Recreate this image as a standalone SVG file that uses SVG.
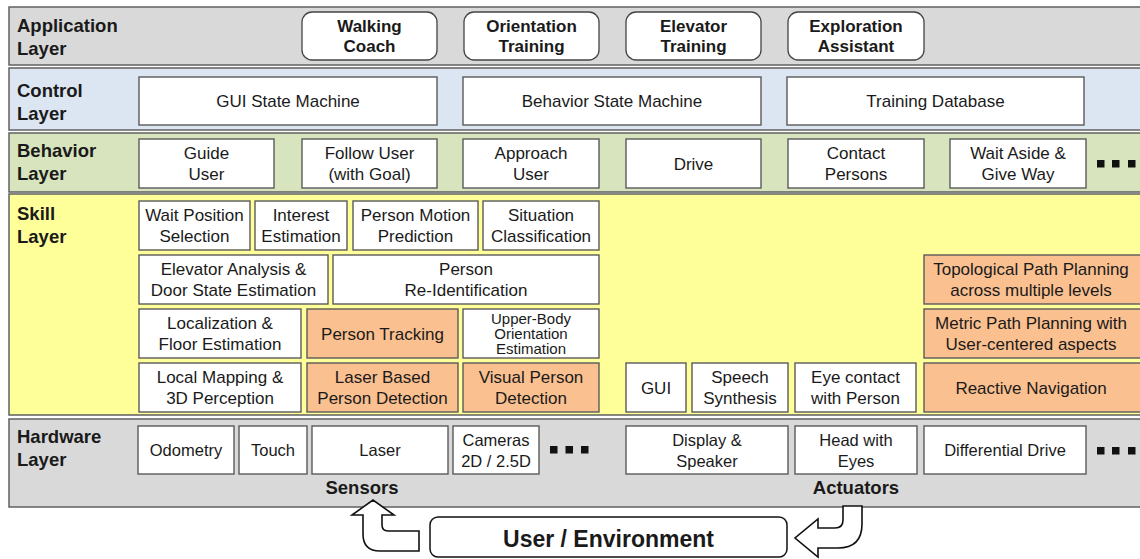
<svg xmlns="http://www.w3.org/2000/svg" width="1140" height="559" viewBox="0 0 1140 559">
<style>
text{font-family:"Liberation Sans",Arial,sans-serif;fill:#1a1a1a}
.lt{font-size:18.5px;font-weight:bold}
.bt{font-size:17px;text-anchor:middle}
.ab{font-size:17px;font-weight:bold;text-anchor:middle}
.ht{font-size:16.5px;text-anchor:middle}
.sm{font-size:15px;text-anchor:middle}
.lay{stroke:#606060;stroke-width:1.5}
.box{fill:#ffffff;stroke:#5a5a5a;stroke-width:1.4}
.org{fill:#fac090;stroke:#5a5a5a;stroke-width:1.4}
.app{fill:#ffffff;stroke:#444;stroke-width:1.3}
.dot{fill:#111}
.arr{fill:#ffffff;stroke:#111;stroke-width:1.6;stroke-linejoin:miter}
</style>

<!-- Layers -->
<g id="application-layer">
<rect class="lay" x="9" y="7" width="1140" height="58" fill="#d9d9d9"/>
<text class="lt" x="17" y="32">Application</text>
<text class="lt" x="17" y="55">Layer</text>
</g>
<g id="control-layer">
<rect class="lay" x="9" y="68" width="1140" height="62" fill="#dce6f2"/>
<text class="lt" x="17" y="97">Control</text>
<text class="lt" x="17" y="120">Layer</text>
</g>
<g id="behavior-layer">
<rect class="lay" x="9" y="133" width="1140" height="59" fill="#d7e4bd"/>
<text class="lt" x="17" y="157">Behavior</text>
<text class="lt" x="17" y="180">Layer</text>
</g>
<g id="skill-layer">
<rect class="lay" x="9" y="194" width="1140" height="221" fill="#ffff99"/>
<text class="lt" x="17" y="220">Skill</text>
<text class="lt" x="17" y="243">Layer</text>
</g>
<g id="hardware-layer">
<rect class="lay" x="9" y="419" width="1140" height="88" fill="#d9d9d9"/>
<text class="lt" x="17" y="443">Hardware</text>
<text class="lt" x="17" y="466">Layer</text>
</g>

<!-- Application nodes -->
<g id="walking-coach"><rect class="app" x="302" y="12" width="135" height="48" rx="10"/><text class="ab" x="369.5" y="32">Walking</text><text class="ab" x="369.5" y="52">Coach</text></g>
<g id="orientation-training"><rect class="app" x="464" y="12" width="135" height="48" rx="10"/><text class="ab" x="531.5" y="32">Orientation</text><text class="ab" x="531.5" y="52">Training</text></g>
<g id="elevator-training"><rect class="app" x="626" y="12" width="135" height="48" rx="10"/><text class="ab" x="693.5" y="32">Elevator</text><text class="ab" x="693.5" y="52">Training</text></g>
<g id="exploration-assistant"><rect class="app" x="788" y="12" width="136" height="48" rx="10"/><text class="ab" x="856" y="32">Exploration</text><text class="ab" x="856" y="52">Assistant</text></g>

<!-- Control nodes -->
<g id="gui-state-machine"><rect class="box" x="139" y="77" width="298" height="48"/><text class="bt" x="288" y="107">GUI State Machine</text></g>
<g id="behavior-state-machine"><rect class="box" x="463" y="77" width="298" height="48"/><text class="bt" x="612" y="107">Behavior State Machine</text></g>
<g id="training-database"><rect class="box" x="787" y="77" width="297" height="48"/><text class="bt" x="935.5" y="107">Training Database</text></g>

<!-- Behavior nodes -->
<g id="guide-user"><rect class="box" x="139" y="139" width="135" height="49"/><text class="bt" x="206.5" y="159">Guide</text><text class="bt" x="206.5" y="180">User</text></g>
<g id="follow-user"><rect class="box" x="302" y="139" width="135" height="49"/><text class="bt" x="369.5" y="159">Follow User</text><text class="bt" x="369.5" y="180">(with Goal)</text></g>
<g id="approach-user"><rect class="box" x="463" y="139" width="136" height="49"/><text class="bt" x="531" y="159">Approach</text><text class="bt" x="531" y="180">User</text></g>
<g id="drive"><rect class="box" x="626" y="139" width="135" height="49"/><text class="bt" x="693.5" y="170">Drive</text></g>
<g id="contact-persons"><rect class="box" x="788" y="139" width="136" height="49"/><text class="bt" x="856" y="159">Contact</text><text class="bt" x="856" y="180">Persons</text></g>
<g id="wait-aside"><rect class="box" x="950" y="139" width="136" height="49"/><text class="bt" x="1018" y="159">Wait Aside &amp;</text><text class="bt" x="1018" y="180">Give Way</text></g>
<g id="behavior-more"><rect class="dot" x="1097" y="160" width="7.5" height="7.5"/><rect class="dot" x="1112" y="160" width="7.5" height="7.5"/><rect class="dot" x="1128" y="160" width="7.5" height="7.5"/></g>

<!-- Skill nodes -->
<g id="wait-position-selection"><rect class="box" x="139" y="201" width="111" height="49"/><text class="bt" x="194.5" y="221">Wait Position</text><text class="bt" x="194.5" y="242">Selection</text></g>
<g id="interest-estimation"><rect class="box" x="255" y="201" width="92" height="49"/><text class="bt" x="301" y="221">Interest</text><text class="bt" x="301" y="242">Estimation</text></g>
<g id="person-motion-prediction"><rect class="box" x="353" y="201" width="125" height="49"/><text class="bt" x="415.5" y="221">Person Motion</text><text class="bt" x="415.5" y="242">Prediction</text></g>
<g id="situation-classification"><rect class="box" x="483" y="201" width="116" height="49"/><text class="bt" x="541" y="221">Situation</text><text class="bt" x="541" y="242">Classification</text></g>

<g id="elevator-analysis"><rect class="box" x="139" y="255" width="189" height="49"/><text class="bt" x="233.5" y="275">Elevator Analysis &amp;</text><text class="bt" x="233.5" y="296">Door State Estimation</text></g>
<g id="person-reidentification"><rect class="box" x="333" y="255" width="266" height="49"/><text class="bt" x="466" y="275">Person</text><text class="bt" x="466" y="296">Re-Identification</text></g>
<g id="topological-path-planning"><rect class="org" x="924" y="255" width="230" height="49"/><text class="bt" x="1031" y="275">Topological Path Planning</text><text class="bt" x="1031" y="296">across multiple levels</text></g>

<g id="localization"><rect class="box" x="139" y="309" width="162" height="49"/><text class="bt" x="220" y="329">Localization &amp;</text><text class="bt" x="220" y="350">Floor Estimation</text></g>
<g id="person-tracking"><rect class="org" x="307" y="309" width="151" height="49"/><text class="bt" x="382.5" y="340">Person Tracking</text></g>
<g id="upper-body-orientation"><rect class="box" x="463" y="309" width="136" height="49"/><text class="sm" x="531" y="324">Upper-Body</text><text class="sm" x="531" y="339">Orientation</text><text class="sm" x="531" y="354">Estimation</text></g>
<g id="metric-path-planning"><rect class="org" x="924" y="309" width="230" height="49"/><text class="bt" x="1031" y="329">Metric Path Planning with</text><text class="bt" x="1031" y="350">User-centered aspects</text></g>

<g id="local-mapping"><rect class="box" x="139" y="363" width="162" height="49"/><text class="bt" x="220" y="383">Local Mapping &amp;</text><text class="bt" x="220" y="404">3D Perception</text></g>
<g id="laser-person-detection"><rect class="org" x="307" y="363" width="151" height="49"/><text class="bt" x="382.5" y="383">Laser Based</text><text class="bt" x="382.5" y="404">Person Detection</text></g>
<g id="visual-person-detection"><rect class="org" x="463" y="363" width="136" height="49"/><text class="bt" x="531" y="383">Visual Person</text><text class="bt" x="531" y="404">Detection</text></g>
<g id="gui"><rect class="box" x="626" y="363" width="60" height="49"/><text class="bt" x="656" y="394">GUI</text></g>
<g id="speech-synthesis"><rect class="box" x="692" y="363" width="96" height="49"/><text class="bt" x="740" y="383">Speech</text><text class="bt" x="740" y="404">Synthesis</text></g>
<g id="eye-contact"><rect class="box" x="795" y="363" width="121" height="49"/><text class="bt" x="855.5" y="383">Eye contact</text><text class="bt" x="855.5" y="404">with Person</text></g>
<g id="reactive-navigation"><rect class="org" x="924" y="363" width="230" height="49"/><text class="bt" x="1031" y="394">Reactive Navigation</text></g>

<!-- Hardware nodes -->
<g id="odometry"><rect class="box" x="138" y="426" width="96" height="48"/><text class="ht" x="186" y="456">Odometry</text></g>
<g id="touch"><rect class="box" x="239" y="426" width="68" height="48"/><text class="ht" x="273" y="456">Touch</text></g>
<g id="laser"><rect class="box" x="312" y="426" width="136" height="48"/><text class="ht" x="380" y="456">Laser</text></g>
<g id="cameras"><rect class="box" x="453" y="426" width="86" height="48"/><text class="ht" x="496" y="446">Cameras</text><text class="ht" x="496" y="467">2D / 2.5D</text></g>
<g id="sensors-more"><rect class="dot" x="550" y="446" width="7.5" height="7.5"/><rect class="dot" x="565.5" y="446" width="7.5" height="7.5"/><rect class="dot" x="581" y="446" width="7.5" height="7.5"/></g>
<g id="display-speaker"><rect class="box" x="626" y="426" width="162" height="48"/><text class="ht" x="707" y="446">Display &amp;</text><text class="ht" x="707" y="467">Speaker</text></g>
<g id="head-with-eyes"><rect class="box" x="795" y="426" width="122" height="48"/><text class="ht" x="856" y="446">Head with</text><text class="ht" x="856" y="467">Eyes</text></g>
<g id="differential-drive"><rect class="box" x="924" y="426" width="162" height="48"/><text class="ht" x="1005" y="456">Differential Drive</text></g>
<g id="actuators-more"><rect class="dot" x="1097" y="447" width="7.5" height="7.5"/><rect class="dot" x="1112" y="447" width="7.5" height="7.5"/><rect class="dot" x="1128" y="447" width="7.5" height="7.5"/></g>
<g id="sensors-label"><text class="lt" x="362" y="494" text-anchor="middle">Sensors</text></g>
<g id="actuators-label"><text class="lt" x="856" y="494" text-anchor="middle">Actuators</text></g>

<!-- User / Environment -->
<g id="user-environment">
<rect x="430" y="517" width="357" height="40" rx="8" fill="#ffffff" stroke="#111" stroke-width="1.5"/>
<text x="608.5" y="547" text-anchor="middle" font-size="23" font-weight="bold">User / Environment</text>
</g>

<!-- Connectors -->
<g id="connectors">
<path class="arr" d="M 419,531 L 388,531 Q 382,531 382,525 L 382,515 L 394,515 L 373,500 L 352,515 L 363,515 L 363,534 Q 363,551 380,551 L 419,551 Z"/>
<path class="arr" d="M 843,506 L 862,506 L 862,524 Q 862,548 838,548 L 818,548 L 818,557 L 795,538 L 818,519 L 818,528 L 835,528 Q 843,528 843,520 Z"/>
</g>
</svg>
